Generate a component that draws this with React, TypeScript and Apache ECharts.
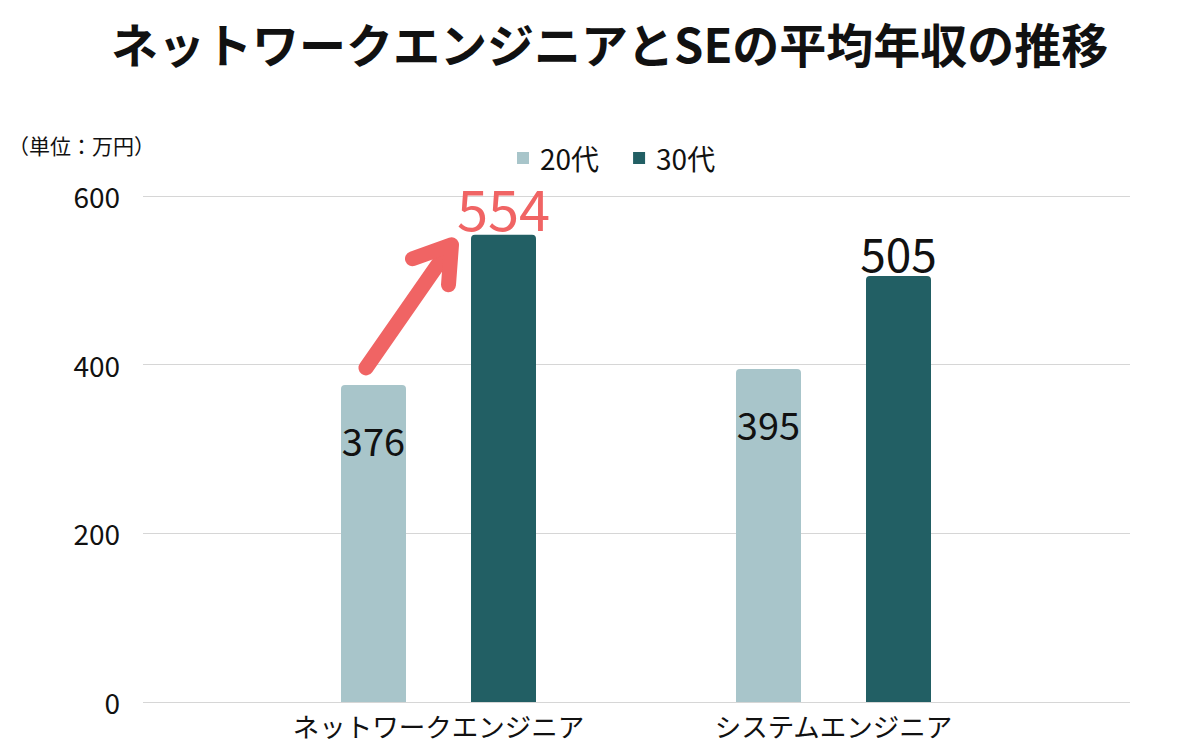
import React, { useEffect, useRef } from "react";
import * as echarts from "echarts";

const categories = ["ネットワークエンジニア", "システムエンジニア"];
const seriesNames = ["20代", "30代"];
const values20s = [376, 395];
const values30s = [554, 505];
const yTicks = [0, 200, 400, 600];

const FONT = "'Noto Sans CJK JP', 'Noto Sans', sans-serif";
const LIGHT = "#a8c5ca";
const DARK = "#225f64";
const RED = "#f06464";

const unitLabel = {
  type: "text",
  left: 8,
  top: 134,
  style: { text: "（単位：万円）", font: `21px ${FONT}`, fill: "#111" },
};

export default function App() {
  const ref = useRef<HTMLDivElement>(null);
  useEffect(() => {
    if (!ref.current) return;
    const chart = echarts.init(ref.current, undefined, { renderer: "svg" });
    const yMax = yTicks[yTicks.length - 1];
    const interval = yTicks[1] - yTicks[0];
    chart.setOption({
      animation: false,
      backgroundColor: "#ffffff",
      textStyle: { fontFamily: FONT },
      title: {
        text: "ネットワークエンジニアとSEの平均年収の推移",
        left: 106,
        top: 14,
        textStyle: { fontFamily: FONT, fontSize: 47, fontWeight: "bold", color: "#111" },
      },
      legend: {
        data: seriesNames,
        left: 512,
        top: 139,
        icon: "rect",
        itemWidth: 12,
        itemHeight: 12,
        itemGap: 34,
        textStyle: { fontFamily: FONT, fontSize: 28, color: "#111", padding: [0, 0, 0, 6] },
      },
      grid: [
        { left: 143, right: 70, top: 196, bottom: 48 },
        { left: 241, right: 169, top: 196, bottom: 48 },
      ],
      xAxis: [
        {
          type: "category",
          gridIndex: 0,
          data: [""],
          axisLine: { show: false },
          axisTick: { show: false },
          axisLabel: { show: false },
        },
        {
          type: "category",
          gridIndex: 1,
          data: categories,
          axisLine: { show: false },
          axisTick: { show: false },
          axisLabel: { fontFamily: FONT, fontSize: 26.5, color: "#111", margin: 9, lineHeight: 28 },
        },
      ],
      yAxis: [
        {
          type: "value",
          gridIndex: 0,
          min: 0,
          max: yMax,
          interval,
          axisLine: { show: false },
          axisTick: { show: false },
          axisLabel: { fontFamily: FONT, fontSize: 28, color: "#111", margin: 23 },
          splitLine: { lineStyle: { color: "#d6d6d6", width: 1 } },
        },
        {
          type: "value",
          gridIndex: 1,
          min: 0,
          max: yMax,
          interval,
          show: false,
          splitLine: { show: false },
        },
      ],
      series: [
        {
          name: seriesNames[0],
          type: "bar",
          xAxisIndex: 1,
          yAxisIndex: 1,
          data: values20s,
          barWidth: 65,
          barGap: "100%",
          itemStyle: { color: LIGHT, borderRadius: [4, 4, 0, 0] },
          label: {
            show: true,
            position: "insideTop",
            distance: 36,
            fontFamily: FONT,
            fontSize: 38,
            color: "#111",
          },
        },
        {
          name: seriesNames[1],
          type: "bar",
          xAxisIndex: 1,
          yAxisIndex: 1,
          data: values30s.map((v, i) =>
            i === 0
              ? { value: v, label: { color: RED, fontSize: 56, distance: 0 } }
              : { value: v }
          ),
          barWidth: 65,
          itemStyle: { color: DARK, borderRadius: [4, 4, 0, 0] },
          label: {
            show: true,
            position: "top",
            distance: 1,
            fontFamily: FONT,
            fontSize: 46,
            color: "#111",
          },
        },
      ],
      graphic: [unitLabel],
    });

    // Arrow annotation anchored to the first category's bars
    const c = chart.convertToPixel({ xAxisIndex: 1, yAxisIndex: 1 }, [0, values20s[0]]) as number[];
    const t = chart.convertToPixel({ xAxisIndex: 1, yAxisIndex: 1 }, [0, values30s[0]]) as number[];
    if (c && t) {
      const barLeftCenter = c[0] - 65.5;
      const start = [barLeftCenter - 7, c[1] - 17];
      const tip = [c[0] + 13, t[1] + 10];
      const shaftEnd = [tip[0] - 4, tip[1] + 6];
      chart.setOption({
        graphic: [
          unitLabel,
          {
            type: "line",
            shape: { x1: start[0], y1: start[1], x2: shaftEnd[0], y2: shaftEnd[1] },
            style: { stroke: RED, lineWidth: 15, lineCap: "round" },
            z: 10,
          },
          {
            type: "polyline",
            shape: {
              points: [
                [tip[0] - 39, tip[1] + 14],
                [tip[0], tip[1]],
                [tip[0] - 3, tip[1] + 40],
              ],
            },
            style: { stroke: RED, lineWidth: 15, lineCap: "round", lineJoin: "round", fill: "none" },
            z: 10,
          },
        ],
      });
    }

    return () => chart.dispose();
  }, []);
  return <div ref={ref} style={{ width: 1200, height: 750, margin: -8 }} />;
}
